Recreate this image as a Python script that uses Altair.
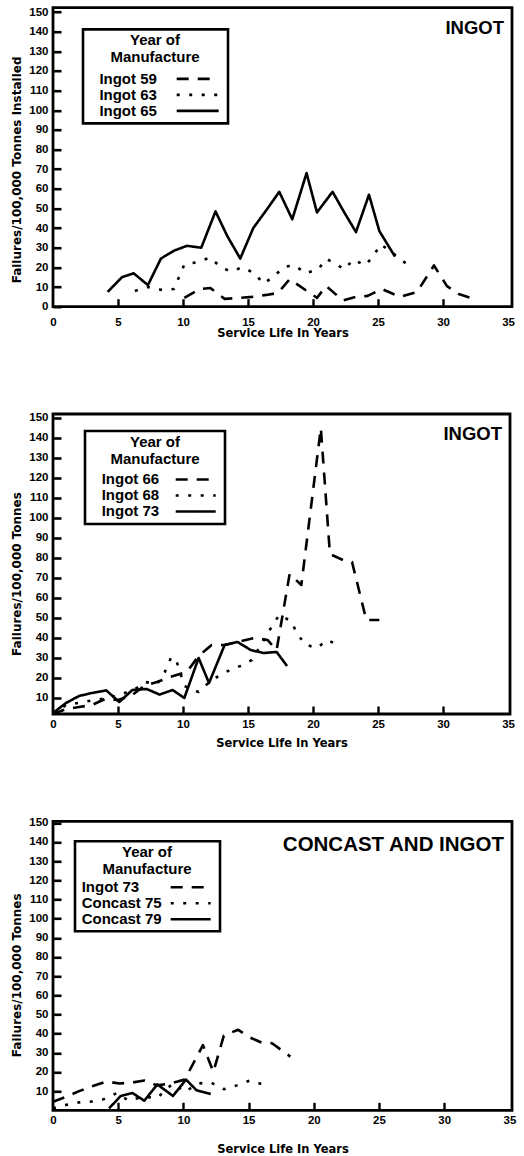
import altair as alt
import pandas as pd

FONT = "Liberation Sans"
TITLE_FONT = "DejaVu Sans"

# ---------------- panel 1: ingot, 1959 / 1963 / 1965 ----------------
p1_names = ["Ingot  59", "Ingot  63", "Ingot  65"]
ingot59_life = [10.1, 11.3, 12.1, 13.2, 14.4, 15.3, 16.4, 17.3, 18.2, 20.3, 21.0,
                22.3, 23.3, 24.2, 25.3, 26.7, 28.0, 29.3, 30.3, 31.2, 32.1]
ingot59_rate = [4.5, 9.0, 9.5, 4.0, 4.5, 5.0, 6.0, 7.0, 14.0, 4.5, 10.5,
                3.2, 5.0, 5.5, 9.0, 5.0, 7.5, 21.0, 10.5, 6.5, 4.5]
ingot63_life = [6.3, 7.3, 8.4, 9.3, 10.1, 11.1, 12.1, 12.8, 13.6, 14.6, 15.5, 16.2,
                17.0, 17.8, 18.6, 19.4, 20.4, 21.0, 21.7, 22.4, 23.1, 24.0, 24.6,
                25.2, 26.2, 26.9, 27.7]
ingot63_rate = [8.0, 10.0, 8.5, 9.0, 21.5, 22.7, 25.0, 20.7, 18.0, 20.0, 17.0, 11.7,
                15.6, 20.4, 21.0, 17.0, 19.0, 24.4, 22.0, 19.0, 24.0, 21.0, 25.5,
                31.7, 27.0, 23.2, 19.4]
ingot65_life = [4.2, 5.3, 6.2, 7.3, 8.3, 9.3, 10.3, 11.4, 12.5, 13.4, 14.4, 15.4,
                16.5, 17.4, 18.4, 19.5, 20.3, 21.5, 22.4, 23.3, 24.3, 25.1, 26.3]
ingot65_rate = [7.5, 15.0, 17.0, 11.0, 24.5, 28.5, 31.0, 30.0, 48.5, 36.0, 24.5, 40.0,
                50.0, 58.5, 44.5, 68.0, 48.0, 58.5, 48.0, 38.0, 57.0, 38.5, 25.5]

# ---------------- panel 2: ingot, 1966 / 1968 / 1973 ----------------
p2_names = ["Ingot  66", "Ingot  68", "Ingot  73"]
ingot66_life = [0.0, 1.0, 2.0, 3.0, 4.0, 5.0, 6.0, 7.0, 8.0, 9.0, 10.3, 11.2, 12.2,
                13.2, 14.2, 15.5, 16.5, 17.2, 18.2, 19.1, 20.6, 21.3, 22.3, 23.0,
                24.1, 25.1]
ingot66_rate = [2.0, 4.5, 5.5, 6.5, 9.5, 9.0, 11.0, 16.0, 18.0, 20.5, 23.0, 31.0, 36.5,
                36.5, 38.0, 40.0, 39.0, 34.0, 72.0, 66.5, 145.0, 82.0, 79.0, 78.0,
                49.0, 49.0]
ingot68_life = [0.0, 1.0, 2.2, 3.2, 4.2, 5.3, 6.2, 7.1, 8.0, 8.6, 9.1, 9.5, 10.1,
                11.2, 12.2, 13.4, 14.4, 15.3, 16.9, 17.4, 18.3, 18.8, 19.4, 20.3,
                21.1, 22.1]
ingot68_rate = [2.0, 6.5, 7.8, 9.0, 10.0, 12.0, 14.0, 18.0, 17.0, 23.0, 30.5, 28.5,
                16.0, 13.0, 19.0, 23.3, 26.0, 29.0, 46.5, 51.5, 48.5, 42.0, 36.7,
                35.0, 39.0, 36.0]
ingot73_life = [0.0, 1.0, 2.0, 3.0, 4.1, 5.1, 6.1, 7.2, 8.2, 9.2, 10.1, 11.2, 12.0,
                13.2, 14.2, 15.2, 16.2, 17.2, 18.0]
ingot73_rate = [2.5, 7.5, 11.0, 12.5, 13.8, 8.0, 14.0, 14.5, 11.7, 14.0, 10.0, 30.0,
                17.5, 36.5, 38.0, 34.0, 32.5, 33.0, 26.0]

# ---------------- panel 3: concast and ingot ----------------
p3_names = ["Ingot  73", "Concast  75", "Concast  79"]
ingot73b_life = [0.0, 1.0, 2.0, 3.0, 4.1, 5.1, 6.1, 7.0, 8.0, 9.0, 10.1, 11.5, 12.3,
                 13.1, 14.2, 15.1, 16.0, 16.8, 18.2]
ingot73b_rate = [4.5, 7.0, 10.0, 12.5, 15.0, 14.0, 14.5, 15.5, 13.0, 14.0, 16.0, 34.0,
                 20.0, 39.0, 42.0, 38.0, 35.3, 35.0, 28.0]
concast75_life = [0.0, 0.8, 1.8, 2.9, 3.9, 4.9, 5.8, 6.9, 8.0, 9.2, 10.1, 11.1, 12.1,
                  13.1, 14.1, 15.1, 16.1]
concast75_rate = [1.0, 2.5, 4.0, 4.5, 5.8, 9.0, 5.0, 7.0, 6.5, 14.0, 9.5, 14.0, 14.5,
                  11.0, 13.0, 15.5, 13.5]
concast79_life = [4.3, 5.2, 6.1, 7.0, 8.0, 9.2, 10.2, 11.0, 12.1]
concast79_rate = [1.0, 7.5, 9.0, 5.0, 13.5, 7.5, 16.0, 10.5, 8.5]

x_ticks = [0, 5, 10, 15, 20, 25, 30, 35]
y_ticks_p1 = list(range(0, 151, 10))
y_ticks_p23 = list(range(10, 151, 10))
legend_title = ["Year  of", "Manufacture"]
x_title = "Service Life In Years"
y_title_p1 = "Failures/100,000  Tonnes Installed"
y_title_p23 = "Failures/100,000  Tonnes"
tag_p12 = "INGOT"
tag_p3 = "CONCAST  AND  INGOT"

# dash patterns: dashed, dotted, solid
DASHES = [[12, 9], [3, 9.5], [1, 0]]
LEGEND_FONT_SIZE = 15
SAMPLE_PATH = "M-5,0H5"   # a flat stroke, scaled by the symbol size


def frame(names, lives, rates):
    rows = []
    for name, xs, ys in zip(names, lives, rates):
        for i, (x, y) in enumerate(zip(xs, ys)):
            rows.append({"series": name, "life": x, "rate": y, "i": i})
    return pd.DataFrame(rows)


def panel(df, names, W, H, xmax, ydom, yticks, ytitle, ytitle_y, tag, tag_size, tag_y,
          x_lab_pad, x_title_pad, lx, ly, lab_x, sym_x, sym_len, leg_title_pad):
    xs = alt.Scale(domain=[0, xmax], nice=False, zero=False)
    ys = alt.Scale(domain=ydom, nice=False, zero=False)
    # labels first, sample line to their right
    entry = LEGEND_FONT_SIZE
    sym_off = sym_x - entry / 2
    lab_off = lab_x - entry - sym_off
    legend = alt.Legend(
        title=legend_title, orient="none", legendX=lx, legendY=ly,
        titleFont=FONT, titleFontSize=15, titleFontWeight="bold", titleColor="black",
        titleAlign="center", titleAnchor="middle", titleLineHeight=17,
        titlePadding=leg_title_pad,
        labelFont=FONT, labelFontSize=LEGEND_FONT_SIZE, labelFontWeight="bold",
        labelColor="black", labelAlign="left", labelOffset={"expr": str(lab_off)},
        symbolOffset=sym_off, symbolType=SAMPLE_PATH, symbolSize=(sym_len / 5) ** 2,
        symbolStrokeWidth=2.6, symbolStrokeColor="black", rowPadding=0,
        padding=4, strokeColor="black",
    )
    lines = alt.Chart(df).mark_line(
        color="black", strokeWidth=2.6, strokeCap="butt", strokeJoin="round"
    ).encode(
        x=alt.X("life:Q", scale=xs, axis=alt.Axis(
            values=x_ticks, title=x_title, ticks=False, tickSize=0, domain=False,
            grid=False, labelPadding=x_lab_pad, titlePadding=x_title_pad,
            labelFlush=False)),
        y=alt.Y("rate:Q", scale=ys, axis=alt.Axis(
            values=yticks, title=ytitle, ticks=False, tickSize=0, domain=False,
            grid=False, labelPadding=5, titlePadding=5, titleY=ytitle_y)),
        strokeDash=alt.StrokeDash("series:N", scale=alt.Scale(domain=names, range=DASHES),
                                  legend=legend),
        order="i:Q",
    )
    # inward tick marks: mirrored axes pulled onto the frame edges
    ticks = alt.Chart(df).mark_point(opacity=0).encode(
        x=alt.X("life:Q", scale=xs, axis=alt.Axis(
            orient="top", offset=-H, values=x_ticks[1:-1], labels=False, domain=False,
            grid=False, title=None, tickSize=8, tickWidth=2.4, tickColor="black")),
        y=alt.Y("rate:Q", scale=ys, axis=alt.Axis(
            orient="right", offset=-W, values=yticks, labels=False, domain=False,
            grid=False, title=None, tickSize=8, tickWidth=2.6, tickColor="black")),
    )
    label = alt.Chart(pd.DataFrame({"t": [tag]})).mark_text(
        align="right", baseline="middle", font=FONT, fontSize=tag_size,
        fontWeight="bold", color="black"
    ).encode(text="t:N", x=alt.value(W - 8), y=alt.value(tag_y))
    return alt.layer(lines, ticks, label).resolve_axis(
        x="independent", y="independent").properties(width=W, height=H)


df1 = frame(p1_names, [ingot59_life, ingot63_life, ingot65_life],
            [ingot59_rate, ingot63_rate, ingot65_rate])
df2 = frame(p2_names, [ingot66_life, ingot68_life, ingot73_life],
            [ingot66_rate, ingot68_rate, ingot73_rate])
df3 = frame(p3_names, [ingot73b_life, concast75_life, concast79_life],
            [ingot73b_rate, concast75_rate, concast79_rate])

c1 = panel(df1, p1_names, 459, 299, 35.3, [0, 152.2], y_ticks_p1, y_title_p1, 161.7,
           tag_p12, 18.5, 20, 9.5, 0, 30, 21.7, 12.4, 110.7, 42, 6)
c2 = panel(df2, p2_names, 457, 300, 35.15, [2, 152], y_ticks_p23, y_title_p23, 159.5,
           tag_p12, 18.5, 20, 4.5, 7.6, 32, 17, 12.7, 106.7, 40, 5)
c3 = panel(df3, p3_names, 459, 289, 35.2, [0, 150.8], y_ticks_p23, y_title_p23, 153.5,
           tag_p3, 20.5, 24, 4.5, 17.6, 22, 20, 2.7, 111.7, 40, 2.5)

chart = alt.concat(c1, c2, c3, columns=1, spacing=107.3, bounds="flush").properties(
    padding={"left": 9, "top": 3.7, "right": 0, "bottom": 0}
).resolve_scale(strokeDash="independent").configure_view(
    stroke="black", strokeWidth=2.8
).configure_axis(
    labelFont=FONT, labelFontSize=11.5, labelFontWeight="bold", labelColor="black",
    titleFont=TITLE_FONT, titleFontSize=11.5, titleFontWeight="bold", titleColor="black",
).configure_axisY(titleFontSize=12).configure_legend(strokeWidth=2.6)

chart.save("out.html", embed_options={"renderer": "svg", "actions": False})
